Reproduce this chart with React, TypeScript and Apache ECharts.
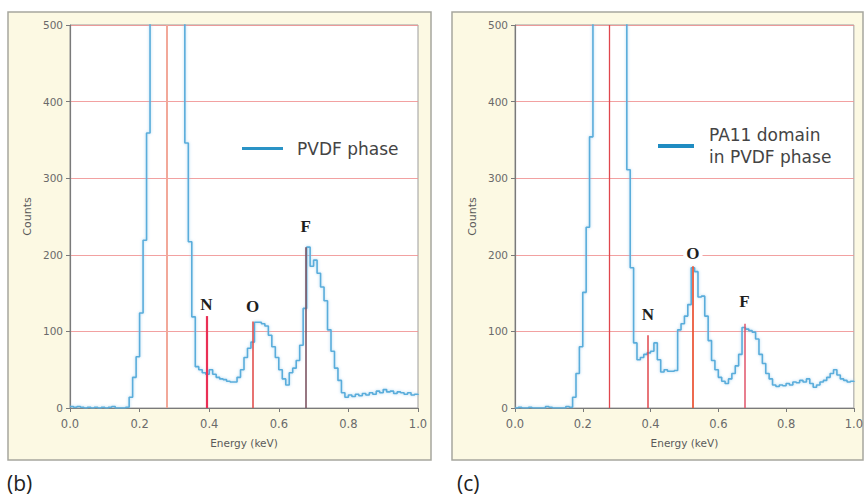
import { useEffect, useRef } from 'react';
import * as echarts from 'echarts';

// Energy bins (keV)
const energies = [
  0.0, 0.01, 0.02, 0.03, 0.04, 0.05, 0.06, 0.07, 0.08, 0.09,
  0.1, 0.11, 0.12, 0.13, 0.14, 0.15, 0.16, 0.17, 0.18, 0.19,
  0.2, 0.21, 0.22, 0.23, 0.24, 0.25, 0.26, 0.27, 0.28, 0.29,
  0.3, 0.31, 0.32, 0.33, 0.34, 0.35, 0.36, 0.37, 0.38, 0.39,
  0.4, 0.41, 0.42, 0.43, 0.44, 0.45, 0.46, 0.47, 0.48, 0.49,
  0.5, 0.51, 0.52, 0.53, 0.54, 0.55, 0.56, 0.57, 0.58, 0.59,
  0.6, 0.61, 0.62, 0.63, 0.64, 0.65, 0.66, 0.67, 0.68, 0.69,
  0.7, 0.71, 0.72, 0.73, 0.74, 0.75, 0.76, 0.77, 0.78, 0.79,
  0.8, 0.81, 0.82, 0.83, 0.84, 0.85, 0.86, 0.87, 0.88, 0.89,
  0.9, 0.91, 0.92, 0.93, 0.94, 0.95, 0.96, 0.97, 0.98, 0.99,
  1.0,
];

// (b) PVDF phase
const countsB = [
  2, 1, 2, 1, 0, 1, 0, 1, 0, 1,
  0, 1, 2, 0, 0, 0, 1, 14, 40, 67,
  124, 219, 359, 900, 1500, 1800, 1900, 1850, 1700, 1500,
  1200, 950, 700, 346, 217, 119, 54, 50, 46, 44,
  50, 44, 40, 38, 37, 35, 34, 34, 40, 50,
  66, 78, 86, 112, 112, 110, 107, 95, 80, 66,
  50, 38, 30, 46, 52, 62, 82, 130, 210, 185,
  193, 176, 158, 140, 102, 74, 52, 36, 20, 14,
  17, 15, 18, 16, 19, 17, 20, 18, 22, 20,
  24, 21, 22, 19, 21, 20, 18, 20, 17, 18,
  17,
];

// (c) PA11 domain in PVDF phase
const countsC = [
  0, 1, 0, 0, 1, 0, 0, 0, 0, 2,
  1, 0, 0, 0, 0, 2, 1, 14, 45, 80,
  151, 236, 354, 800, 1400, 1700, 1800, 1750, 1600, 1400,
  1100, 850, 600, 311, 183, 85, 63, 66, 70, 72,
  74, 85, 63, 47, 50, 48, 48, 49, 102, 110,
  120, 135, 183, 178, 145, 146, 120, 88, 62, 50,
  40, 35, 32, 38, 45, 55, 70, 105, 103, 101,
  99, 90, 70, 58, 45, 38, 30, 28, 30, 29,
  32, 30, 34, 33, 36, 34, 38, 32, 27, 30,
  34, 36, 40, 45, 50, 43, 38, 36, 34, 35,
  34,
];

// Element lines
const carbonEnergy = 0.277;
const elementNames = ['N', 'O', 'F'];
const elementEnergies = [0.392, 0.525, 0.677];
const elementTopsB = [120, 113, 210];
const elementTopsC = [95, 185, 110];

const seriesNames = ['PVDF phase', 'PA11 domain\nin PVDF phase'];
const panelLabels = ['(b)', '(c)'];
const xTicks = [0, 0.2, 0.4, 0.6, 0.8, 1.0];
const yTicks = [0, 100, 200, 300, 400, 500];

const SANS = 'DejaVu Sans';

function makeAxes(gi: number) {
  const x = {
    type: 'value',
    gridIndex: gi,
    min: xTicks[0],
    max: xTicks[xTicks.length - 1],
    interval: 0.2,
    axisLine: { show: true, onZero: false, lineStyle: { color: '#7a7a7a', width: 1.2 } },
    axisTick: { show: true, length: 4, lineStyle: { color: '#7a7a7a' } },
    axisLabel: {
      formatter: (v: number) => v.toFixed(1),
      fontFamily: SANS,
      fontSize: 11.5,
      color: '#6a6a6a',
      margin: 10,
    },
    splitLine: { show: false },
    name: 'Energy (keV)',
    nameLocation: 'middle',
    nameGap: 29,
    nameTextStyle: { fontFamily: SANS, fontSize: 10.5, color: '#5a5a5a' },
  };
  const y = {
    type: 'value',
    gridIndex: gi,
    min: yTicks[0],
    max: yTicks[yTicks.length - 1],
    interval: 100,
    axisLine: { show: true, onZero: false, lineStyle: { color: '#7a7a7a', width: 1.2 } },
    axisTick: { show: true, length: 4, lineStyle: { color: '#7a7a7a' } },
    axisLabel: { fontFamily: SANS, fontSize: 10.5, color: '#6a6a6a', margin: 7 },
    splitLine: { show: true, lineStyle: { color: '#f09090', width: 1, opacity: 0.85 } },
    name: 'Counts',
    nameLocation: 'middle',
    nameGap: 37,
    nameRotate: 90,
    nameTextStyle: { fontFamily: SANS, fontSize: 11, color: '#5a5a5a' },
  };
  return { x, y };
}

function makeMarkLines(tops: number[], colors: string[], widths: number[], distances: number[], cColor: string, cWidth: number) {
  const data: any[] = [
    [
      { xAxis: carbonEnergy, yAxis: 0, lineStyle: { color: cColor, width: cWidth, type: 'solid' }, label: { show: false } },
      { xAxis: carbonEnergy, yAxis: 500 },
    ],
  ];
  elementNames.forEach((n, i) => {
    data.push([
      {
        xAxis: elementEnergies[i],
        yAxis: 0,
        lineStyle: { color: colors[i], width: widths[i], type: 'solid' },
        label: {
          show: true,
          position: 'end',
          formatter: n,
          distance: distances[i],
          fontFamily: 'Liberation Serif',
          fontWeight: 'bold',
          fontSize: 17,
          color: '#1e1e1e',
          backgroundColor: '#ffffff',
          padding: [0, 3, 0, 3],
        },
      },
      { xAxis: elementEnergies[i], yAxis: tops[i] },
    ]);
  });
  return {
    silent: true,
    symbol: ['none', 'none'],
    animation: false,
    data,
  };
}

export default function App() {
  const ref = useRef<HTMLDivElement>(null);

  useEffect(() => {
    if (!ref.current) return;
    const chart = echarts.init(ref.current, undefined, { renderer: 'svg' });
    const axB = makeAxes(0);
    const axC = makeAxes(1);

    const spectrumStyle = {
      color: '#5aaddb',
      width: 1.6,
      shadowColor: 'rgba(140, 200, 235, 0.7)',
      shadowBlur: 3,
    };

    const option: any = {
      animation: false,
      backgroundColor: '#ffffff',
      graphic: [
        {
          type: 'rect',
          z: -5,
          silent: true,
          shape: { x: 8, y: 12, width: 423, height: 448 },
          style: { fill: '#fcf9e3', stroke: '#a6a69e', lineWidth: 1.5 },
        },
        {
          type: 'rect',
          z: -5,
          silent: true,
          shape: { x: 452, y: 12, width: 411, height: 448 },
          style: { fill: '#fcf9e3', stroke: '#a6a69e', lineWidth: 1.5 },
        },
        {
          type: 'text',
          x: 7,
          y: 472,
          silent: true,
          style: { text: panelLabels[0], fontFamily: 'Open Sans', fontSize: 21, fill: '#222222' },
        },
        {
          type: 'text',
          x: 457,
          y: 472,
          silent: true,
          style: { text: panelLabels[1], fontFamily: 'Open Sans', fontSize: 21, fill: '#222222' },
        },
      ],
      grid: [
        { left: 70, top: 25, width: 348, height: 383, show: true, backgroundColor: '#ffffff', borderColor: '#9c9c9c', borderWidth: 1 },
        { left: 515, top: 25, width: 343, height: 383, show: true, backgroundColor: '#ffffff', borderColor: '#9c9c9c', borderWidth: 1 },
      ],
      xAxis: [axB.x, axC.x],
      yAxis: [axB.y, axC.y],
      legend: [
        {
          data: [seriesNames[0]],
          left: 237,
          top: 135,
          icon: 'rect',
          itemWidth: 41,
          itemHeight: 3,
          selectedMode: false,
          itemStyle: { color: '#2a93c6' },
          textStyle: { fontFamily: SANS, fontSize: 17, color: '#444444', padding: [0, 0, 0, 9] },
        },
        {
          data: [seriesNames[1]],
          left: 653,
          top: 119,
          icon: 'rect',
          itemWidth: 36,
          itemHeight: 4,
          selectedMode: false,
          itemStyle: { color: '#1f8cc2' },
          textStyle: { fontFamily: SANS, fontSize: 17, lineHeight: 22, color: '#444444', padding: [0, 0, 0, 10] },
        },
      ],
      series: [
        {
          name: seriesNames[0],
          type: 'line',
          xAxisIndex: 0,
          yAxisIndex: 0,
          step: 'end',
          showSymbol: false,
          clip: true,
          lineStyle: spectrumStyle,
          itemStyle: { color: '#5aaddb' },
          data: energies.map((e, i) => [e, countsB[i]]),
          markLine: makeMarkLines(
            elementTopsB,
            ['#ea2f55', '#e2504e', '#7d5563'],
            [2.2, 1.6, 1.6],
            [3, 6, 12],
            '#f2a899',
            2,
          ),
        },
        {
          name: seriesNames[1],
          type: 'line',
          xAxisIndex: 1,
          yAxisIndex: 1,
          step: 'end',
          showSymbol: false,
          clip: true,
          lineStyle: spectrumStyle,
          itemStyle: { color: '#5aaddb' },
          data: energies.map((e, i) => [e, countsC[i]]),
          markLine: makeMarkLines(
            elementTopsC,
            ['#e0474d', '#ec5a3c', '#e0556a'],
            [1.5, 1.8, 1.5],
            [12, 4, 14],
            '#e0474d',
            1.3,
          ),
        },
      ],
    };
    chart.setOption(option);
    return () => chart.dispose();
  }, []);

  return (
    <div
      ref={ref}
      style={{ position: 'fixed', left: 0, top: 0, width: 866, height: 501 }}
    />
  );
}
